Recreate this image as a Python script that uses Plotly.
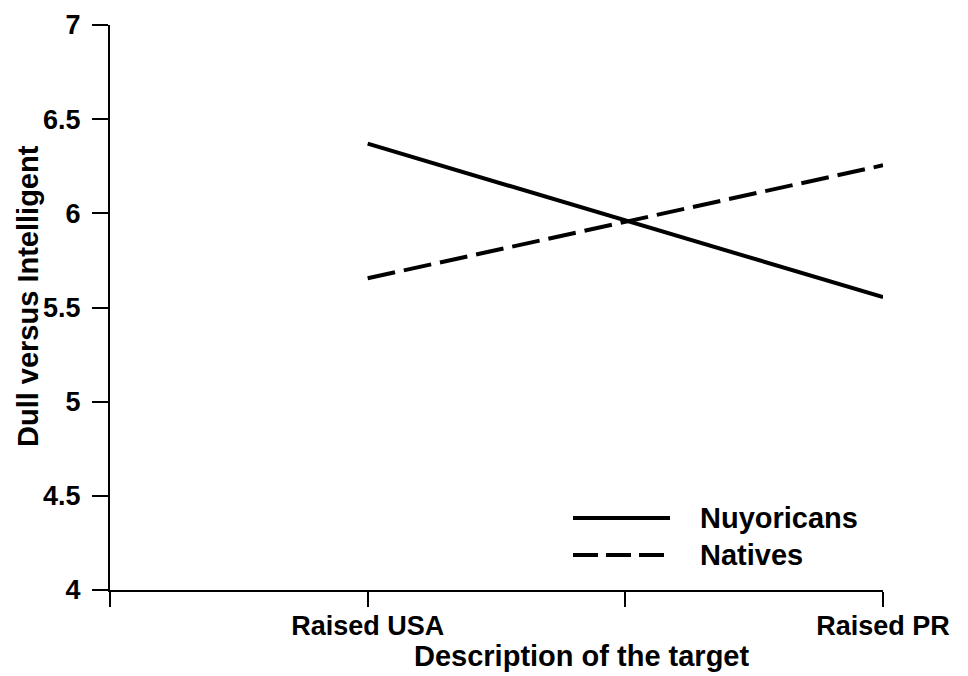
import plotly.graph_objects as go

categories = ["Raised USA", "Raised PR"]
cat_positions = [1, 3]
nuyoricans = [6.37, 5.555]
natives = [5.655, 6.255]
y_ticks = [4, 4.5, 5, 5.5, 6, 6.5, 7]
y_ticktext = ["4", "4.5", "5", "5.5", "6", "6.5", "7"]
x_ticks = [0, 1, 2, 3]
x_ticktext = ["", "Raised USA", "", "Raised PR"]

FONT = "Liberation Sans, Arial, Helvetica, sans-serif"

# the page body has an 8px margin; layout below is in page pixels minus 8
PW, PH = 773, 565  # plot area size
X0, Y0 = 110, 590  # plot area left / bottom in page pixels


def px(x):
    return (x - X0) / PW


def py(y):
    return (Y0 - y) / PH


fig = go.Figure()
fig.add_trace(go.Scatter(x=cat_positions, y=nuyoricans, mode="lines", name="Nuyoricans",
                         line=dict(color="black", width=4), showlegend=False))
fig.add_trace(go.Scatter(x=cat_positions, y=natives, mode="lines", name="Natives",
                         line=dict(color="black", width=4, dash="28px,9px"), showlegend=False))

# manual legend
fig.add_shape(type="line", xref="paper", yref="paper", x0=px(573), x1=px(670),
              y0=py(518), y1=py(518), line=dict(color="black", width=4))
fig.add_shape(type="line", xref="paper", yref="paper", x0=px(573), x1=px(670),
              y0=py(555), y1=py(555), line=dict(color="black", width=4, dash="25px,8px"))
fig.add_annotation(xref="paper", yref="paper", x=px(698), y=py(518), text="<b>Nuyoricans</b>",
                   showarrow=False, xanchor="left", yanchor="middle", font=dict(size=29, color="black", family=FONT))
fig.add_annotation(xref="paper", yref="paper", x=px(698), y=py(555), text="<b>Natives</b>",
                   showarrow=False, xanchor="left", yanchor="middle", font=dict(size=29, color="black", family=FONT))

# axis titles
fig.add_annotation(xref="paper", yref="paper", x=px(581), y=py(656), text="<b>Description of the target</b>",
                   showarrow=False, xanchor="center", yanchor="middle", font=dict(size=29, color="black", family=FONT))
fig.add_annotation(xref="paper", yref="paper", x=px(28), y=py(296), text="<b>Dull versus Intelligent</b>",
                   showarrow=False, xanchor="center", yanchor="middle", textangle=-90,
                   font=dict(size=29, color="black", family=FONT))

fig.update_layout(
    width=960, height=668,
    margin=dict(l=X0 - 8, r=960 - (X0 - 8) - PW, t=Y0 - 8 - PH, b=668 - (Y0 - 8)),
    plot_bgcolor="white", paper_bgcolor="white",
    font=dict(family=FONT, color="black", size=27),
)
fig.update_xaxes(range=[0, 3], tickvals=x_ticks, ticktext=["<b>%s</b>" % t if t else "" for t in x_ticktext],
                 showgrid=False, zeroline=False, showline=True, linecolor="black", linewidth=2,
                 ticks="outside", ticklen=15, tickwidth=2, tickcolor="black", ticklabelstandoff=-4,
                 automargin=False, tickfont=dict(size=27, family=FONT, color="black"))
fig.update_yaxes(range=[4, 7], tickvals=y_ticks, ticktext=["<b>%s</b>" % t for t in y_ticktext],
                 showgrid=False, zeroline=False, showline=True, linecolor="black", linewidth=2,
                 ticks="outside", ticklen=16, tickwidth=2, tickcolor="black", ticklabelstandoff=6,
                 automargin=False, tickfont=dict(size=27, family=FONT, color="black"))

fig.write_html("out.html")
